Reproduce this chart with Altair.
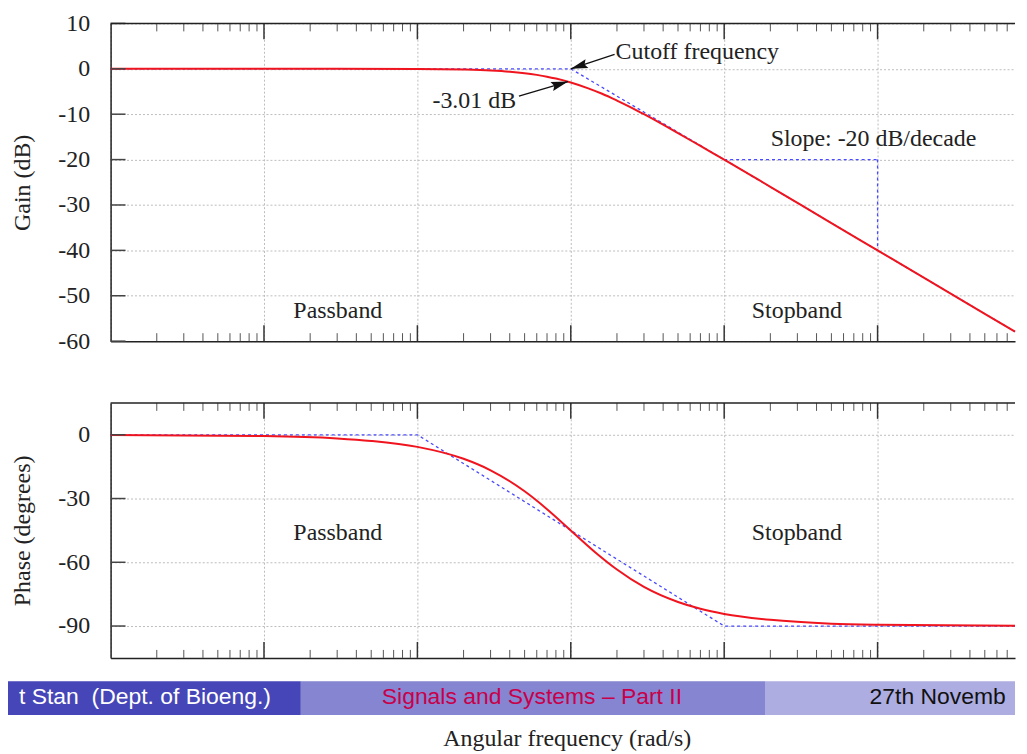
import altair as alt
import pandas as pd

SERIF = "Liberation Serif"
SANS = "Liberation Sans"

# ---------------- data ----------------
X_MIN, X_MAX = 0.001, 787.0

gain_w = [0.001, 0.01, 0.1, 0.2, 0.3, 0.4, 0.5, 0.6, 0.7, 0.8, 1.0, 1.3, 1.6,
          2.0, 2.5, 3.0, 4.0, 5.0, 7.0, 10.0, 20.0, 50.0, 100.0, 200.0, 500.0, 787.0]
gain_db = [0.0, 0.0, -0.04, -0.17, -0.37, -0.64, -0.97, -1.34, -1.73, -2.15, -3.01, -4.3, -5.5,
           -7.0, -8.6, -10.0, -12.3, -14.15, -17.0, -20.0, -26.0, -34.0, -40.0, -46.0, -54.0, -57.9]

gain_asym_w = [0.001, 1.0, 10.0, 100.0, 787.0]
gain_asym_db = [0.0, 0.0, -20.0, -40.0, -57.9]

# slope indicator segments (w0, w1, v0, v1)
slope_w0 = [10.0, 100.0]
slope_w1 = [100.0, 100.0]
slope_v0 = [-20.0, -20.0]
slope_v1 = [-20.0, -40.0]

phase_w = [0.001, 0.01, 0.03, 0.05, 0.1, 0.2, 0.3, 0.5, 0.7, 1.0, 1.5, 2.0, 3.0,
           5.0, 7.0, 10.0, 20.0, 50.0, 100.0, 787.0]
phase_deg = [-0.06, -0.57, -1.7, -2.9, -5.7, -11.3, -16.7, -26.6, -35.0, -45.0, -56.3, -63.4, -71.6,
             -78.7, -81.9, -84.3, -87.1, -88.9, -89.4, -89.9]

phase_asym_w = [0.001, 0.1, 10.0, 787.0]
phase_asym_deg = [0.0, 0.0, -90.0, -90.0]

gain_ticks = [-60, -50, -40, -30, -20, -10, 0, 10]
phase_ticks = [-90, -60, -30, 0]
decades = [0.001, 0.01, 0.1, 1.0, 10.0, 100.0]

gain_text = ["Cutoff frequency", "-3.01 dB", "Slope: -20 dB/decade", "Passband", "Stopband"]
gain_text_w = [1.96, 0.44, 94.0, 0.0303, 29.8]
gain_text_v = [2.25, -8.72, -17.0, -55.0, -55.0]
gain_text_align = ["left", "right", "center", "center", "center"]

phase_text = ["Passband", "Stopband"]
phase_text_w = [0.0303, 29.8]
phase_text_v = [-49.6, -49.6]

# arrows: tail (w, v) -> tip (w, v)
arrow_tail_w = [1.93, 0.459]
arrow_tail_v = [3.2, -6.02]
arrow_tip_w = [1.0, 0.96]
arrow_tip_v = [0.0, -2.8]
arrow_angle = [252.4, 73.0]

footer_texts = ["t Stan \u00a0(Dept. of Bioeng.)", "Signals and Systems \u2013 Part II", "27th November"]

# ---------------- layout ----------------
W = 908
H_GAIN = 319
H_PHASE = 256

RED = "#f0141e"
BLUE = "#4a4aff"
GRID = dict(gridColor="#bcbcbc", gridDash=[2, 2], gridWidth=1)
AX = dict(domainColor="#222222", domainWidth=1.5, ticks=False,
          labelFont=SERIF, labelFontSize=24, labelColor="#222222",
          titleFont=SERIF, titleFontSize=24, titleFontWeight="normal", titleColor="#222222")

xs = alt.Scale(type="log", domain=[X_MIN, X_MAX], nice=False)
minor = [k * d for d in decades for k in range(2, 10) if k * d <= X_MAX]
ARROW = "M0,0L0.55,2L0,1.7L-0.55,2Z"


def make_panel(H, ydom, yticks, ytitle, xaxis, curve_w, curve_v, asym_w, asym_v):
    ys = alt.Scale(domain=ydom, nice=False, zero=False)
    yaxis = alt.Axis(values=yticks, title=ytitle, labelPadding=21, titleAngle=270,
                     labelExpr="'' + datum.value",
                     titleX=-88, titleY=H / 2, titleAlign="center", titleBaseline="middle",
                     grid=True, **GRID, **AX)

    def X(f):
        return alt.X(f, type="quantitative", scale=xs, axis=xaxis)

    def Y(f):
        return alt.Y(f, type="quantitative", scale=ys, axis=yaxis)

    one = pd.DataFrame({"a": [0]})
    layers = []
    asym = pd.DataFrame({"w": asym_w, "v": asym_v})
    layers.append(alt.Chart(asym).mark_line(color=BLUE, strokeWidth=1.3, strokeDash=[3, 3])
                  .encode(x=X("w"), y=Y("v")))
    curve = pd.DataFrame({"w": curve_w, "v": curve_v})
    layers.append(alt.Chart(curve).mark_line(color=RED, strokeWidth=2, interpolate="monotone")
                  .encode(x=X("w"), y=Y("v")))
    # inward ticks on top/bottom borders
    mnr = pd.DataFrame({"w": minor})
    maj = pd.DataFrame({"w": decades[1:]})
    for y0, sgn in ((0, 1), (H, -1)):
        layers.append(alt.Chart(mnr).mark_rule(color="#555555", strokeWidth=1)
                      .encode(x=X("w"), y=alt.value(y0), y2=alt.value(y0 + sgn * 8)))
        layers.append(alt.Chart(maj).mark_rule(color="#333333", strokeWidth=1.5)
                      .encode(x=X("w"), y=alt.value(y0), y2=alt.value(y0 + sgn * 16)))
    yt = pd.DataFrame({"v": yticks})
    layers.append(alt.Chart(yt).mark_rule(color="#444444", strokeWidth=1.5)
                  .encode(y=Y("v"), x=alt.value(0), x2=alt.value(15)))
    # top border
    layers.append(alt.Chart(one).mark_rule(color="#222222", strokeWidth=1.5)
                  .encode(x=alt.value(0), x2=alt.value(W), y=alt.value(0)))
    return layers, X, Y


# ---------------- gain panel ----------------
top_xaxis = alt.Axis(values=decades, labels=False, ticks=False, title=None, grid=True,
                     domainColor="#222222", domainWidth=1.5, **GRID)
g_layers, gX, gY = make_panel(H_GAIN, [-60, 10], gain_ticks, "Gain (dB)", top_xaxis,
                              gain_w, gain_db, gain_asym_w, gain_asym_db)
slope = pd.DataFrame({"w0": slope_w0, "w1": slope_w1, "v0": slope_v0, "v1": slope_v1})
g_layers.insert(1, alt.Chart(slope).mark_rule(color=BLUE, strokeWidth=1.3, strokeDash=[3, 3])
                .encode(x=gX("w0"), x2="w1", y=gY("v0"), y2="v1"))
for t, w, v, a in zip(gain_text, gain_text_w, gain_text_v, gain_text_align):
    g_layers.append(alt.Chart(pd.DataFrame({"w": [w], "v": [v], "t": [t]}))
                    .mark_text(align=a, baseline="alphabetic", font=SERIF, fontSize=24, color="#222222")
                    .encode(x=gX("w"), y=gY("v"), text="t:N"))
arrows = pd.DataFrame({"w0": arrow_tail_w, "v0": arrow_tail_v, "w1": arrow_tip_w, "v1": arrow_tip_v})
g_layers.append(alt.Chart(arrows).mark_rule(color="#111111", strokeWidth=1.3)
                .encode(x=gX("w0"), x2="w1", y=gY("v0"), y2="v1"))
for w, v, ang in zip(arrow_tip_w, arrow_tip_v, arrow_angle):
    g_layers.append(alt.Chart(pd.DataFrame({"w": [w], "v": [v]}))
                    .mark_point(shape=ARROW, filled=True, color="#111111", opacity=1, size=290, angle=ang,
                                strokeWidth=0)
                    .encode(x=gX("w"), y=gY("v")))
gain_chart = alt.layer(*g_layers).properties(width=W, height=H_GAIN)

# ---------------- phase panel ----------------
bot_xaxis = alt.Axis(values=decades, labels=False, ticks=False, grid=True,
                     title="Angular frequency (rad/s)", titleX=458, titleY=88,
                     titleBaseline="alphabetic", titleAlign="center",
                     titleFont=SERIF, titleFontSize=24, titleFontWeight="normal", titleColor="#222222",
                     domainColor="#222222", domainWidth=1.5, **GRID)
p_layers, pX, pY = make_panel(H_PHASE, [-105, 15], phase_ticks, "Phase (degrees)", bot_xaxis,
                              phase_w, phase_deg, phase_asym_w, phase_asym_deg)
for t, w, v in zip(phase_text, phase_text_w, phase_text_v):
    p_layers.append(alt.Chart(pd.DataFrame({"w": [w], "v": [v], "t": [t]}))
                    .mark_text(align="center", baseline="alphabetic", font=SERIF, fontSize=24, color="#222222")
                    .encode(x=pX("w"), y=pY("v"), text="t:N"))

# beamer footline (decoration drawn over the lower axis area)
one = pd.DataFrame({"a": [0]})
FY0, FY1, FBASE = H_PHASE + 23.4, H_PHASE + 57.4, H_PHASE + 46.7
for x0, x1, col in ((-103, 191, "#4646b8"), (191, 657, "#8585d1"), (657, W, "#adade1")):
    p_layers.append(alt.Chart(one).mark_rect(color=col, opacity=1)
                    .encode(x=alt.value(x0), x2=alt.value(x1), y=alt.value(FY0), y2=alt.value(FY1)))
p_layers.append(alt.Chart(one).mark_text(align="right", baseline="alphabetic", font=SANS, fontSize=23,
                                         color="white")
                .encode(x=alt.value(161), y=alt.value(FBASE), text=alt.value(footer_texts[0])))
p_layers.append(alt.Chart(one).mark_text(align="center", baseline="alphabetic", font=SANS, fontSize=23,
                                         color="#c8004a")
                .encode(x=alt.value(423), y=alt.value(FBASE), text=alt.value(footer_texts[1])))
p_layers.append(alt.Chart(one).mark_text(align="left", baseline="alphabetic", font=SANS, fontSize=23,
                                         color="#111111", limit=146, ellipsis="\u200b")
                .encode(x=alt.value(762), y=alt.value(FBASE), text=alt.value(footer_texts[2])))
phase_chart = alt.layer(*p_layers).properties(width=W, height=H_PHASE)

chart = (alt.vconcat(gain_chart, phase_chart, spacing=62, bounds="flush")
         .properties(padding={"left": 0, "right": 0, "top": 2, "bottom": 0}, background="white")
         .configure_view(stroke=None))

chart.save("out.html", embed_options={"renderer": "svg", "actions": False})
